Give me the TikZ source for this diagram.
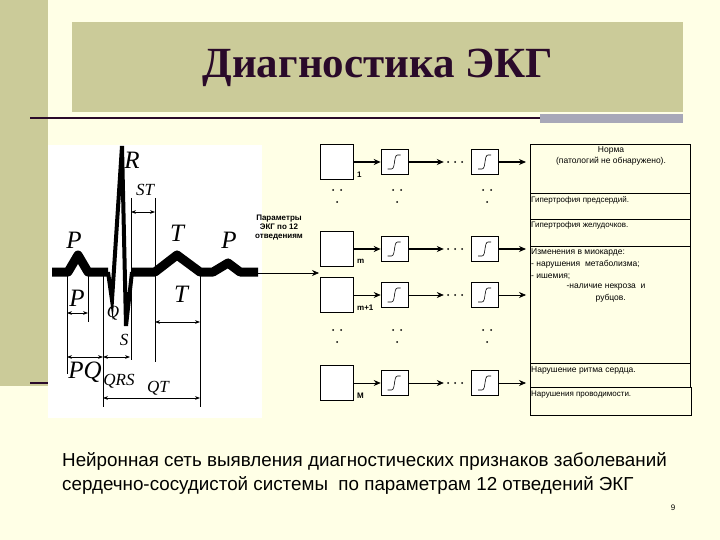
\documentclass[tikz,border=0pt]{standalone}
\usepackage{fontspec}
\setmainfont{Liberation Serif}
\newfontfamily\sans{Liberation Sans}
\usetikzlibrary{arrows.meta}
\definecolor{bg}{HTML}{FFFFE6}
\definecolor{olive}{HTML}{CBCB99}
\definecolor{tgray}{HTML}{A8A8B8}
\definecolor{ttl}{HTML}{2A0A2A}
\tikzset{
  inbox/.style={draw,line width=0.6pt,minimum width=33pt,minimum height=35pt,inner sep=0pt,fill=white},
  sigbox/.style={draw,line width=0.6pt,minimum width=27pt,minimum height=25pt,inner sep=0pt,fill=white},
  thk/.style={line width=1.4pt,-{Stealth[length=7pt,width=6pt]}},
  thn/.style={line width=0.7pt,-{Stealth[length=7pt,width=6pt]}},
  lbl/.style={font=\sans\fontsize{8}{9}\selectfont\bfseries,inner sep=0pt},
  rtxt/.style={font=\sans\fontsize{8}{11.5}\selectfont,inner sep=0pt,anchor=north west,align=left},
  ecgl/.style={font=\itshape\fontsize{25}{25}\selectfont,inner sep=0pt},
  ecgs/.style={font=\itshape\fontsize{17}{17}\selectfont,inner sep=0pt},
  dim/.style={line width=0.8pt,{Stealth[length=5pt]}-{Stealth[length=5pt]}},
  vdot/.style={minimum width=22pt,minimum height=6pt,inner sep=0pt}
}
\begin{document}
\begin{tikzpicture}[x=1pt,y=-1pt]
\fill[bg] (0,0) rectangle (720,540);
\useasboundingbox (0,0) rectangle (720,540);
\fill[olive] (0,0) rectangle (48,386);
% title
\fill[olive] (72,22) rectangle (683,112);
\node[font=\bfseries\fontsize{43}{43}\selectfont,text=ttl] (title) at (378,68) {Диагностика ЭКГ};
\draw[line width=2pt,ttl] (30,118) -- (540,118);
\fill[tgray] (540,114) rectangle (683,123);
\draw[line width=1.5pt,ttl] (30,383) -- (48,383);
% ECG picture
\fill[white] (48,145) rectangle (262,418);
\draw[line width=9pt,line join=round] (52,272) -- (68,272) -- (78,255) -- (88,272) -- (108,272);
\draw[line width=4pt,line join=miter] (108,272) -- (112,300) -- (122,146) -- (126,326) -- (132,272);
\draw[line width=9pt,line join=round] (132,272) -- (155,272) -- (177,255) -- (200,272) -- (213,272) -- (228,263) -- (240,272) -- (258,272);
\draw[line width=0.8pt] (67,272) -- (67,374) (88,272) -- (88,322) (103,272) -- (103,407)
  (131,198) -- (131,272) (131,272) -- (131,360) (155,198) -- (155,362) (200,272) -- (200,407);
\draw[dim] (131,212) -- (155,212);
\draw[dim] (67,313) -- (88,313);
\draw[dim] (67,357) -- (103,357);
\draw[dim] (103,357) -- (130,357);
\draw[dim] (155,322) -- (200,322);
\draw[dim] (103,398) -- (200,398);
\node[ecgl] (R) at (132,160) {R};
\node[ecgs] (ST) at (145,190) {ST};
\node[ecgl] (P1) at (74,240) {P};
\node[ecgl] (T1) at (177,233) {T};
\node[ecgl] (P2) at (229,240) {P};
\node[ecgl] (P3) at (77,298) {P};
\node[ecgs] (Q) at (113,313) {Q};
\node[ecgs] (S) at (124,340) {S};
\node[ecgl] (T2) at (181,294) {T};
\node[ecgl] (PQ) at (85,372) {PQ};
\node[ecgs] (QRS) at (119,381) {QRS};
\node[ecgs] (QT) at (158,388) {QT};
\node[lbl,align=center] (par) at (279,228) {Параметры\\ЭКГ по 12\\отведениям};
\coordinate (e0) at (252,273);
\coordinate (e1) at (319,273);
\draw[thn] (e0) -- (e1);
% network
\foreach \n/\y/\st/\lab in {1/162/thk/1, m/249/thk/m, mm/295/thn/m+1, M/383/thn/M}{
  \node[inbox] (in\n) at (336.5,\y) {};
  \node[sigbox] (sa\n) at (394.5,\y) {};
  \node[sigbox] (sb\n) at (485,\y) {};
  \node[vdot] (dd\n) at (455,\y) {};
  \fill ([xshift=-7pt]dd\n.center) circle (1pt) (dd\n.center) circle (1pt) ([xshift=7pt]dd\n.center) circle (1pt);
  \coordinate (out\n) at (526,\y);
  \draw[\st] (in\n.east) -- (sa\n.west);
  \draw[\st] (sa\n.east) -- (dd\n.west);
  \draw[\st] (sb\n.east) -- (out\n);
  \foreach \s in {sa\n,sb\n}{
    \draw[line width=0.6pt] ([xshift=-7pt,yshift=-7pt]\s.center) -- ([xshift=-3pt,yshift=-7pt]\s.center)
      .. controls ([xshift=1pt,yshift=-7pt]\s.center) and ([xshift=-1pt,yshift=7pt]\s.center) .. ([xshift=3pt,yshift=7pt]\s.center)
      -- ([xshift=6pt,yshift=7pt]\s.center);
  }
  \node[lbl,anchor=north west] (lb\n) at (357,\y+10) {\lab};
}
\foreach \yy in {190,330}{
  \foreach \xx in {337,397,487}{
    \fill (\xx-4,\yy) circle (1pt) (\xx+4,\yy) circle (1pt) (\xx,\yy+12) circle (1pt);
  }
}
% right boxes
\draw[line width=0.6pt] (530,144) rectangle (690,193);
\draw[line width=0.6pt] (530,193) rectangle (690,219);
\draw[line width=0.6pt] (530,219) rectangle (690,246);
\draw[line width=0.6pt] (530,246) rectangle (690,363);
\draw[line width=0.6pt] (530,363) rectangle (690,387);
\draw[line width=0.6pt] (530,387) rectangle (691,415);
\node[rtxt,anchor=north,align=center,font=\sans\fontsize{8.5}{11}\selectfont] (r1) at (611,146) {Норма\\(патологий не обнаружено).};
\node[rtxt] (r2) at (531,196) {Гипертрофия предсердий.};
\node[rtxt] (r3) at (531,222) {Гипертрофия желудочков.};
\node[rtxt,font=\sans\fontsize{8.5}{12}\selectfont] (r4) at (531,248) {Изменения в миокарде:\\- нарушения\ \ метаболизма;\\- ишемия;};
\node[rtxt,anchor=north,align=center,font=\sans\fontsize{8.5}{12}\selectfont] (r4b) at (606,284) {-наличие некроза\ \ и\\\ \ \ \ рубцов.};
\node[rtxt,font=\sans\fontsize{8.5}{11}\selectfont] (r5) at (531,366) {Нарушение ритма сердца.};
\node[rtxt] (r6) at (531,391) {Нарушения проводимости.};
% caption
\node[font=\sans\fontsize{18.8}{24}\selectfont,align=left,anchor=north west,inner sep=0pt] (cap) at (62,452)
  {Нейронная сеть выявления диагностических признаков заболеваний\\сердечно-сосудистой системы\ \ по параметрам 12 отведений ЭКГ};
\node[font=\sans\fontsize{8}{8}\selectfont,inner sep=0pt] (pg) at (673,508) {9};
\end{tikzpicture}
\end{document}
